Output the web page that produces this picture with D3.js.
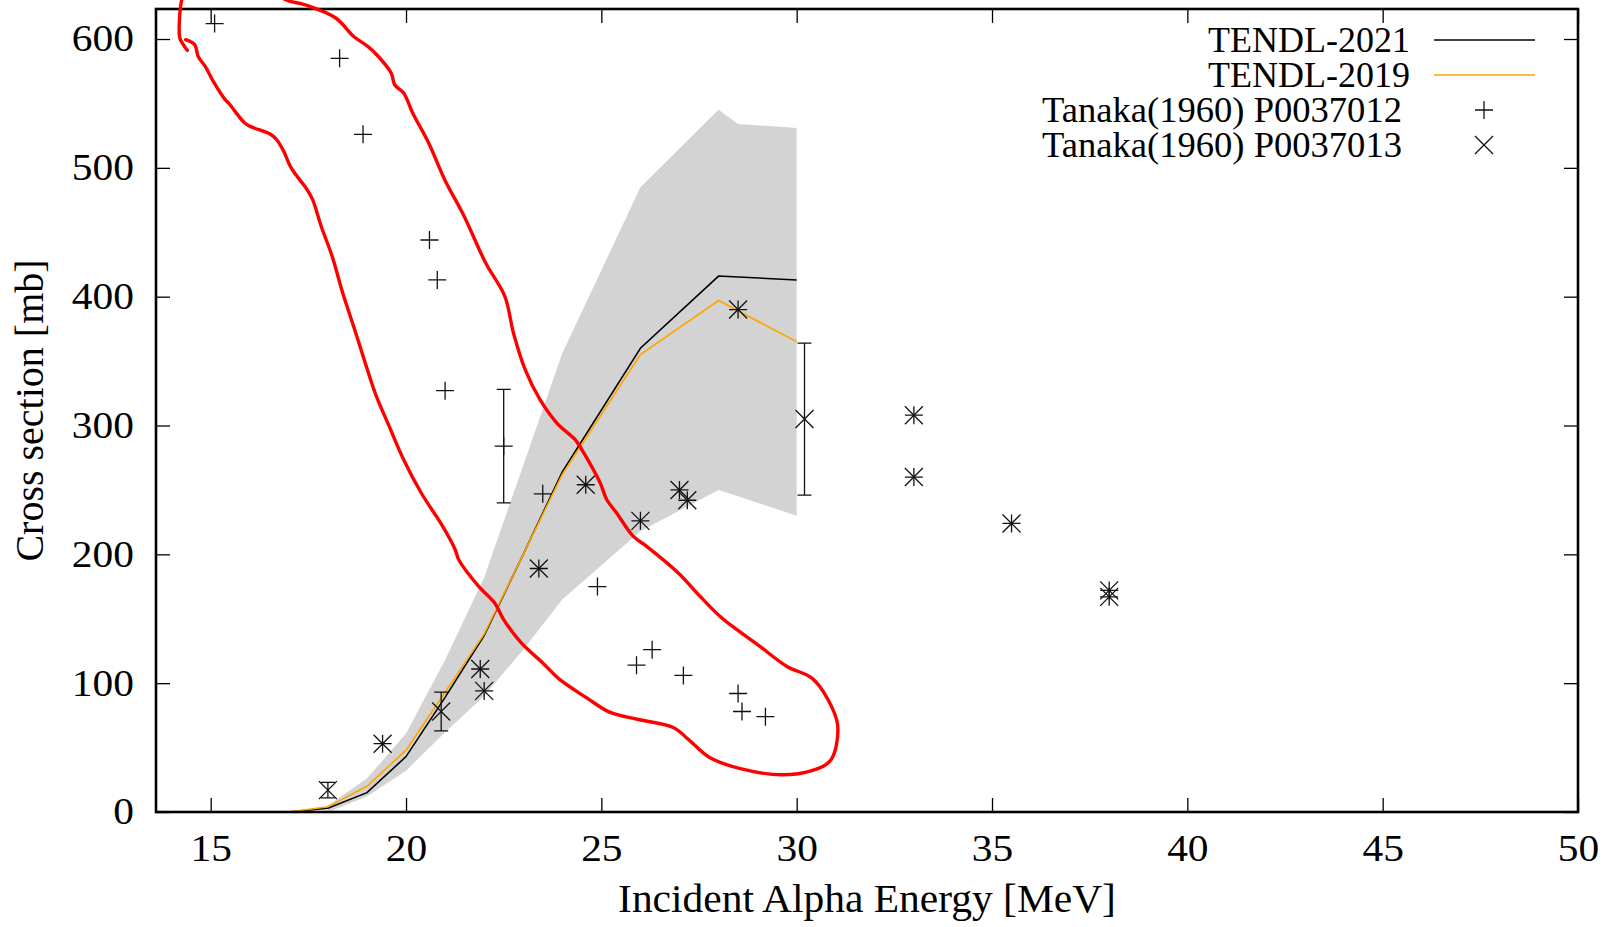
<!DOCTYPE html>
<html>
<head>
<meta charset="utf-8">
<script src="https://cdn.jsdelivr.net/npm/d3@7"></script>
<style>
  html, body { margin: 0; padding: 0; background: #fff; }
  svg { display: block; }
  text { font-family: "Liberation Serif", "Times New Roman", serif; fill: #000; }
</style>
</head>
<body>
<svg id="chart" width="1612" height="927"></svg>
<script>
// ---- Evaluated cross sections (TENDL), incident alpha energy in MeV, cross section in mb ----
const tendlEnergy = [17, 18, 19, 20, 21, 22, 23, 24, 26, 28, 30];
const tendl2021 = [0, 3, 15, 43, 89, 137, 200, 264, 360, 416, 413];
const tendl2019 = [0, 4, 20, 48, 93, 138, 200, 262, 355, 397, 365];

// ---- Uncertainty band around the evaluation ----
const bandEnergy = [18, 19, 20, 21, 22, 23, 24, 26, 28, 28.5, 30];
const bandHigh = [5, 26, 61, 118, 182, 269, 356, 485, 545, 534, 531];
const bandLow = [0, 12, 32, 62, 90, 126, 165, 218, 250, 245, 230];

// ---- Tanaka (1960), EXFOR P0037012 ----
const p12Energy = [15.1, 18.3, 18.9, 19.4, 20.6, 20.8, 21.0, 21.9, 22.0, 22.5, 23.4, 23.5, 24.6, 24.9, 25.9,
                   26.0, 26.3, 27.0, 27.1, 27.2, 28.5, 28.5, 28.6, 29.2, 33.0, 33.0, 35.5, 38.0, 38.0];
const p12Xs = [612, 585, 526, 53, 444, 413, 327, 111, 94, 284, 189, 247, 254, 175, 114,
               226, 126, 250, 106, 242, 390, 92, 78, 74, 308, 260, 224, 172, 167];
const p12Err = [0, 0, 0, 0, 0, 0, 0, 0, 0, 44, 0, 0, 0, 0, 0,
                0, 0, 0, 0, 0, 0, 0, 0, 0, 0, 0, 0, 0, 0];

// ---- Tanaka (1960), EXFOR P0037013 ----
const p13Energy = [18.0, 19.4, 20.9, 21.9, 22.0, 23.4, 24.6, 26.0, 27.0, 27.2, 28.5, 30.2, 33.0, 33.0, 35.5, 38.0, 38.0];
const p13Xs = [17, 53, 78, 111, 94, 189, 254, 226, 250, 242, 390, 305, 308, 260, 224, 172, 167];
const p13Err = [6, 0, 15, 0, 0, 0, 0, 0, 0, 0, 0, 59, 0, 0, 0, 0, 0];

// ---- Hand-drawn red outline (data units) ----
const outlineEnergy = [14.40, 14.30, 14.21, 14.20, 14.26, 14.39, 14.98, 16.01, 16.92, 17.41, 18.20, 18.66, 19.02,
  19.25, 19.62, 19.71, 19.94, 20.17, 20.58, 20.99, 21.49, 22.04, 22.53, 22.75, 23.05, 23.43, 23.86, 24.33,
  24.50, 24.97, 25.14, 25.39, 25.82, 26.16, 26.97, 27.53, 28.04, 28.47, 29.06, 29.75, 30.39, 30.79, 31.05,
  30.87, 30.39, 29.61, 28.56, 27.76, 27.24, 26.84, 25.92, 25.21, 24.63, 23.94, 23.50, 22.95, 22.50, 22.27,
  21.86, 21.35, 21.26, 20.94, 20.39, 19.94, 19.57, 19.21, 18.93, 18.66, 18.38, 18.11, 17.83, 17.61, 17.47,
  17.06, 16.87, 16.69, 16.55, 16.01, 15.87, 15.59, 15.46, 15.37, 15.09, 14.86, 14.68, 14.59, 14.36];
const outlineXs = [591.2, 595.6, 600.8, 615.0, 630.5, 641.4, 652.2, 649.9, 630.5, 626.6, 616.3, 602.0, 594.3,
  587.8, 573.6, 564.5, 558.1, 542.6, 519.3, 490.8, 462.3, 426.1, 400.2, 371.8, 343.3, 320.0, 301.9, 289.0,
  281.2, 255.4, 242.4, 232.1, 213.9, 206.2, 185.5, 167.3, 151.8, 141.5, 128.5, 113.0, 103.9, 87.9, 67.1,
  40.1, 32.1, 28.9, 33.6, 42.5, 56.0, 65.6, 72.0, 77.5, 88.5, 102.7, 115.7, 131.2, 149.3, 162.2,
  175.1, 195.8, 203.6, 221.7, 247.6, 273.5, 299.3, 325.2, 351.1, 376.9, 402.8, 431.3, 454.5, 475.3, 483.0,
  499.9, 512.8, 521.8, 525.7, 532.2, 534.8, 545.1, 550.3, 552.9, 565.9, 578.7, 586.5, 595.6, 599.5];

// ---- Axes ----
const xTicks = [15, 20, 25, 30, 35, 40, 45, 50];
const yTicks = [0, 100, 200, 300, 400, 500, 600];
const xDomain = [13.6, 50];
const yDomain = [0, 623.3];

const legendLabels = ["TENDL-2021", "TENDL-2019", "Tanaka(1960) P0037012", "Tanaka(1960) P0037013"];

const svg = d3.select("#chart");
const frame = { left: 156, right: 1578, top: 9, bottom: 812 };

const x = d3.scaleLinear().domain(xDomain).range([frame.left, frame.right]);
const y = d3.scaleLinear().domain(yDomain).range([frame.bottom, frame.top]);

svg.append("defs").append("clipPath").attr("id", "plotArea")
  .append("rect")
  .attr("x", frame.left).attr("y", frame.top)
  .attr("width", frame.right - frame.left).attr("height", frame.bottom - frame.top);

const plot = svg.append("g").attr("clip-path", "url(#plotArea)");

// uncertainty band
const band = bandEnergy.map((e, i) => ({ e, lo: bandLow[i], hi: bandHigh[i] }));
plot.append("path")
  .datum(band)
  .attr("fill", "#d3d3d3")
  .attr("d", d3.area().x(d => x(d.e)).y0(d => y(d.lo)).y1(d => y(d.hi)));

// evaluation curves
const lineGen = d3.line().x(d => x(d[0])).y(d => y(d[1]));
plot.append("path")
  .datum(tendlEnergy.map((e, i) => [e, tendl2021[i]]))
  .attr("fill", "none").attr("stroke", "#000").attr("stroke-width", 1.6)
  .attr("d", lineGen);
plot.append("path")
  .datum(tendlEnergy.map((e, i) => [e, tendl2019[i]]))
  .attr("fill", "none").attr("stroke", "#ffa500").attr("stroke-width", 1.6)
  .attr("d", lineGen);

// point symbols
const half = 9;
const plusPath = (cx, cy) => `M${cx - half},${cy}H${cx + half}M${cx},${cy - half}V${cy + half}`;
const crossPath = (cx, cy) => `M${cx - half},${cy - half}L${cx + half},${cy + half}M${cx - half},${cy + half}L${cx + half},${cy - half}`;
const capHalf = 7;

function drawSeries(energy, xs, err, symbol) {
  const pts = energy.map((e, i) => ({ e, v: xs[i], err: err[i] }));
  const g = plot.append("g").attr("stroke", "#111").attr("stroke-width", 1.3).attr("fill", "none");
  g.selectAll("path.err")
    .data(pts.filter(d => d.err > 0))
    .join("path")
    .attr("class", "err")
    .attr("d", d => {
      const cx = x(d.e), top = y(d.v + d.err), bot = y(d.v - d.err);
      return `M${cx},${top}V${bot}M${cx - capHalf},${top}H${cx + capHalf}M${cx - capHalf},${bot}H${cx + capHalf}`;
    });
  g.selectAll("path.sym")
    .data(pts)
    .join("path")
    .attr("class", "sym")
    .attr("d", d => symbol(x(d.e), y(d.v)));
}
drawSeries(p12Energy, p12Xs, p12Err, plusPath);
drawSeries(p13Energy, p13Xs, p13Err, crossPath);

// ticks on all four sides, pointing inward; labels set in a slightly wide Times face
const labelStretch = 1.12;
const tickStyle = g => {
  g.select(".domain").remove();
  g.selectAll(".tick line").attr("stroke", "#000").attr("stroke-width", 1.3);
  g.selectAll(".tick text").style("font-family", "'Liberation Serif', serif").attr("fill", "#000");
};
svg.append("g")
  .attr("transform", `translate(0,${frame.bottom})`)
  .call(d3.axisBottom(x).tickValues(xTicks).tickSize(-14).tickPadding(23).tickFormat(d3.format("d")))
  .call(tickStyle)
  .call(g => g.selectAll(".tick text").attr("font-size", 37)
    .attr("transform", `scale(${labelStretch},1)`));
svg.append("g")
  .attr("transform", `translate(0,${frame.top})`)
  .call(d3.axisTop(x).tickValues(xTicks).tickSize(-14).tickFormat(""))
  .call(tickStyle);
svg.append("g")
  .attr("transform", `translate(${frame.left},0)`)
  .call(d3.axisLeft(y).tickValues(yTicks).tickSize(-14).tickPadding(22).tickFormat(d3.format("d")))
  .call(tickStyle)
  .call(g => g.selectAll(".tick text").attr("font-size", 37).attr("x", 0)
    .attr("transform", `translate(-22,0) scale(${labelStretch},1)`));
svg.append("g")
  .attr("transform", `translate(${frame.right},0)`)
  .call(d3.axisRight(y).tickValues(yTicks).tickSize(-14).tickFormat(""))
  .call(tickStyle);

// frame
svg.append("rect")
  .attr("x", frame.left).attr("y", frame.top)
  .attr("width", frame.right - frame.left).attr("height", frame.bottom - frame.top)
  .attr("fill", "none").attr("stroke", "#000").attr("stroke-width", 2.6);

// axis titles
const xTitleX = (frame.left + frame.right) / 2;
svg.append("text")
  .attr("transform", `translate(${xTitleX},912) scale(1.037,1)`)
  .attr("text-anchor", "middle").attr("font-size", 40)
  .text("Incident Alpha Energy [MeV]");
svg.append("text")
  .attr("transform", `translate(43,${(frame.top + frame.bottom) / 2}) rotate(-90)`)
  .attr("text-anchor", "middle").attr("font-size", 40)
  .text("Cross section [mb]");

// legend
const legend = svg.append("g");
const rowY = i => 40 + i * 35;
const legendRight = [1410, 1410, 1402, 1402];
const legendSize = [36, 36, 36.6, 36.6];
legendLabels.forEach((label, i) => {
  legend.append("text")
    .attr("x", legendRight[i]).attr("y", rowY(i) + 12)
    .attr("text-anchor", "end").attr("font-size", legendSize[i])
    .text(label);
});
legend.append("line").attr("x1", 1434).attr("x2", 1535).attr("y1", rowY(0)).attr("y2", rowY(0))
  .attr("stroke", "#000").attr("stroke-width", 1.6);
legend.append("line").attr("x1", 1434).attr("x2", 1535).attr("y1", rowY(1)).attr("y2", rowY(1))
  .attr("stroke", "#ffa500").attr("stroke-width", 1.6);
legend.append("path").attr("d", plusPath(1484, rowY(2)))
  .attr("stroke", "#111").attr("stroke-width", 1.3).attr("fill", "none");
legend.append("path").attr("d", crossPath(1484, rowY(3)))
  .attr("stroke", "#111").attr("stroke-width", 1.3).attr("fill", "none");

// red hand-drawn outline, drawn over everything and not clipped to the frame
svg.append("path")
  .datum(outlineEnergy.map((e, i) => [e, outlineXs[i]]))
  .attr("fill", "none").attr("stroke", "#ff0000").attr("stroke-width", 3.4)
  .attr("stroke-linejoin", "round").attr("stroke-linecap", "round")
  .attr("d", d3.line().x(d => x(d[0])).y(d => y(d[1])).curve(d3.curveCatmullRom.alpha(0.5)));
</script>
</body>
</html>
